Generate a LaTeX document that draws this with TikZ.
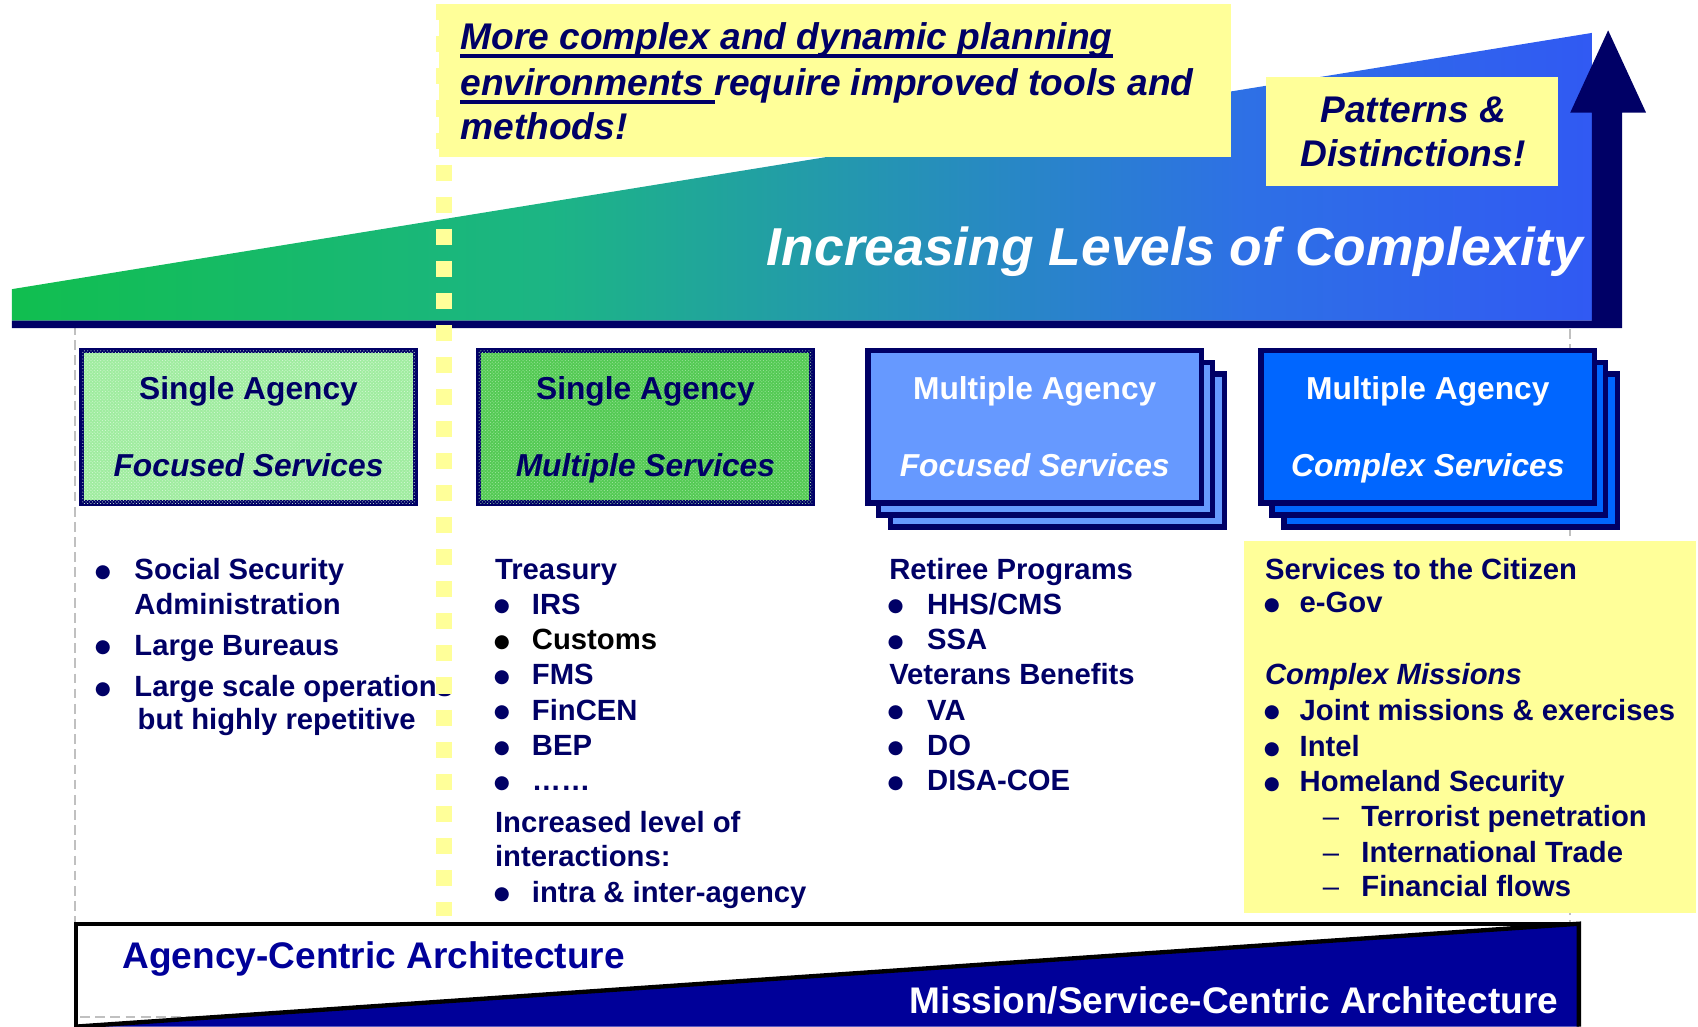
\documentclass[tikz,border=0pt]{standalone}
\usepackage{fontspec}
\setmainfont{Liberation Sans}
\newfontfamily\symfont{DejaVu Sans}
\usetikzlibrary{calc,patterns}
\definecolor{navy}{RGB}{0,0,102}
\definecolor{archblue}{RGB}{0,0,153}
\definecolor{paleyellow}{RGB}{255,255,153}
\definecolor{greenA}{RGB}{160,236,160}
\definecolor{greenAp}{RGB}{215,250,215}
\definecolor{greenB}{RGB}{84,202,84}
\definecolor{greenBp}{RGB}{165,232,165}
\definecolor{blueA}{RGB}{102,153,255}
\definecolor{blueB}{RGB}{0,102,255}
\definecolor{dashgrey}{RGB}{192,192,192}
\pgfdeclarehorizontalshading{cplx}{100bp}{rgb(0bp)=(0,0.8,0); rgb(42bp)=(0.11,0.71,0.52); rgb(64bp)=(0.18,0.44,0.90); rgb(85bp)=(0.2,0.27,1); rgb(100bp)=(0.2,0.2,1)}
\newcommand\setfs[1]{\fontsize{#1}{#1}\selectfont}
\newcommand\itm[5]{%
  \node[lst,bul] (#1-b) at (#2,#4-6.5) {●};
  \node[lst,anchor=base west] (#1) at (#3,#4) {#5};}
\newcommand\dsh[5]{%
  \node[lst,anchor=base,font=\setfs{27}] (#1-d) at (#2,#4) {–};
  \node[lst,anchor=base west] (#1) at (#3,#4) {#5};}
\tikzset{
  toptext/.style={inner sep=0, text=navy, font=\setfs{34.3}\bfseries\itshape},
  boxtext/.style={inner sep=0, anchor=base, font=\setfs{29.3}\bfseries},
  lst/.style={inner sep=0, text=navy, font=\setfs{27}\bfseries},
  bul/.style={anchor=center, font=\symfont\setfs{17}},
  agbox/.style={draw=navy, line width=5, minimum width=308, minimum height=141, inner sep=0},
  ul/.style={navy, line width=3.5},
  yfill/.style={fill=paleyellow, inner sep=0},
  archtext/.style={inner sep=0, anchor=base west, font=\setfs{34.2}\bfseries},
}
\begin{document}
\begin{tikzpicture}[x=1pt,y=-1pt]
\useasboundingbox (0,0) rectangle (1568,948);
% grey dashed frame
\draw[dashgrey, line width=2, dash pattern=on 9 off 5] (69,300) rectangle (1450,939);
% gradient wedge
\shade[shading=cplx] (11,296) -- (11,267) -- (1470,30.4) -- (1470,296) -- cycle;
% navy base bar and arrow
\fill[navy] (11,296) -- (1470,296) -- (1470,104) -- (1450,104) -- (1485,28) -- (1520,104) -- (1498,104) -- (1498,303) -- (11,303) -- cycle;
% top yellow note
\node[yfill, minimum width=732, minimum height=141] (topbox) at (771,74.4) {};
\node[toptext, anchor=base west] (t1) at (425,46) {More complex and dynamic planning};
\draw[ul] ($(t1.base west)+(0,6)$) -- ($(t1.base east)+(0,6)$);
\node[toptext, anchor=base west] (t2a) at (425,88) {environments};
\node[toptext, anchor=base west] (t2b) at ($(t2a.base east)+(9.5,0)$) {require improved tools and};
\draw[ul] ($(t2a.base west)+(0,6)$) -- ($(t2a.base east)+(9.5,6)$);
\node[toptext, anchor=base west] (t3) at (425,129) {methods!};
% patterns note
\node[yfill, minimum width=270, minimum height=100.5] (patbox) at (1304,121.25) {};
\node[toptext, anchor=base] (p1) at (1305,113) {Patterns \&};
\node[toptext, anchor=base] (p2) at (1305,154) {Distinctions!};
% complexity label
\node[inner sep=0, anchor=base west, text=white, font=\setfs{49.3}\bfseries\itshape] (inc) at (708,245) {Increasing Levels of Complexity};
% boxes
\node[agbox, fill=greenA] (b1) at (229.5,394) {};
\fill[pattern=crosshatch dots, pattern color=greenAp] ($(b1.south west)+(2.5,-2.5)$) rectangle ($(b1.north east)+(-2.5,2.5)$);
\node[boxtext, text=navy] (b1a) at (229.5,369) {Single Agency};
\node[boxtext, text=navy, font=\setfs{29.3}\bfseries\itshape] (b1b) at (229.5,440) {Focused Services};
\node[agbox, fill=greenB] (b2) at (596,394) {};
\fill[pattern=crosshatch dots, pattern color=greenBp] ($(b2.south west)+(2.5,-2.5)$) rectangle ($(b2.north east)+(-2.5,2.5)$);
\node[boxtext, text=navy] (b2a) at (596,369) {Single Agency};
\node[boxtext, text=navy, font=\setfs{29.3}\bfseries\itshape] (b2b) at (596,440) {Multiple Services};
\node[agbox, fill=blueA] (b3s2) at (976.5,416) {};
\node[agbox, fill=blueA] (b3s1) at (965.5,405) {};
\node[agbox, fill=blueA] (b3) at (955.5,394) {};
\node[boxtext, text=white] (b3a) at (955.5,369) {Multiple Agency};
\node[boxtext, text=white, font=\setfs{29.3}\bfseries\itshape] (b3b) at (955.5,440) {Focused Services};
\node[agbox, fill=blueB] (b4s2) at (1339.5,416) {};
\node[agbox, fill=blueB] (b4s1) at (1328.5,405) {};
\node[agbox, fill=blueB] (b4) at (1318.5,394) {};
\node[boxtext, text=white] (b4a) at (1318.5,369) {Multiple Agency};
\node[boxtext, text=white, font=\setfs{29.3}\bfseries\itshape] (b4b) at (1318.5,440) {Complex Services};
% column 4 yellow panel
\node[yfill, minimum width=417, minimum height=343] (ybox) at (1357.5,671.5) {};
% column 1
\itm{c1a}{95}{124}{535}{Social Security}
\node[lst, anchor=base west] (c1a2) at (124,567) {Administration};
\itm{c1b}{95}{124}{605}{Large Bureaus}
\itm{c1c}{95}{124}{643}{Large scale operations}
\node[lst, anchor=base west] (c1c2) at (127,674) {but highly repetitive};
% column 2
\node[lst, anchor=base west] (c2h) at (457,535) {Treasury};
\itm{c2a}{463.5}{491}{567}{IRS}
\node[lst, bul, text=black] (c2b-b) at (463.5,593.5) {●};
\node[lst, anchor=base west, text=black] (c2b) at (491,600) {Customs};
\itm{c2c}{463.5}{491}{632.5}{FMS}
\itm{c2d}{463.5}{491}{665}{FinCEN}
\itm{c2e}{463.5}{491}{698}{BEP}
\itm{c2f}{463.5}{491}{730}{……}
\node[lst, anchor=base west] (c2g) at (457,769) {Increased level of};
\node[lst, anchor=base west] (c2g2) at (457,800) {interactions:};
\itm{c2i}{463.5}{491}{833}{intra \& inter-agency}
% column 3
\node[lst, anchor=base west] (c3h) at (821,535) {Retiree Programs};
\itm{c3a}{827}{856}{567}{HHS/CMS}
\itm{c3b}{827}{856}{600}{SSA}
\node[lst, anchor=base west] (c3h2) at (821,632.5) {Veterans Benefits};
\itm{c3c}{827}{856}{665}{VA}
\itm{c3d}{827}{856}{698}{DO}
\itm{c3e}{827}{856}{730}{DISA-COE}
% column 4
\node[lst, anchor=base west] (c4h) at (1168,535.5) {Services to the Citizen};
\itm{c4a}{1174.5}{1200}{566}{e-Gov}
\node[lst, anchor=base west, font=\setfs{27}\bfseries\itshape] (c4h2) at (1168,632.5) {Complex Missions};
\itm{c4b}{1174.5}{1200}{665}{Joint missions \& exercises}
\itm{c4c}{1174.5}{1200}{699}{Intel}
\itm{c4d}{1174.5}{1200}{731}{Homeland Security}
\dsh{c4e}{1229}{1257}{763}{Terrorist penetration}
\dsh{c4f}{1229}{1257}{796}{International Trade}
\dsh{c4g}{1229}{1257}{828}{Financial flows}
% yellow dashed divider
\draw[paleyellow, line width=15, dash pattern=on 14.8 off 14.8] (410,4) -- (410,846);
% bottom architecture band
\fill[archblue] (70,948) -- (1458,853) -- (1458,948) -- cycle;
\draw[black, line width=4] (70,948) -- (1458,853) -- (1458,948);
\draw[black, line width=3.5] (70,950) -- (70,853) -- (1458,853);
\node[archtext, text=archblue] (acA) at (113,894) {Agency-Centric Architecture};
\node[archtext, text=white] (acM) at (840,935.5) {Mission/Service-Centric Architecture};
\end{tikzpicture}
\end{document}
